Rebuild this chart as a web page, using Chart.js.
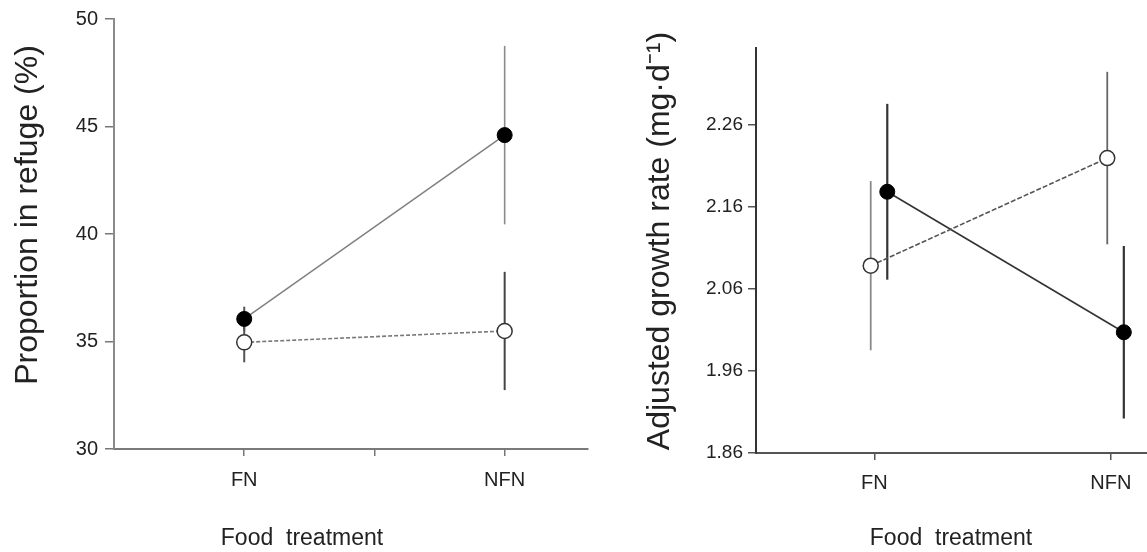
<!DOCTYPE html>
<html>
<head>
<meta charset="utf-8">
<script src="https://cdn.jsdelivr.net/npm/chart.js@4.4.1/dist/chart.umd.min.js"></script>
<style>
  html, body { margin: 0; padding: 0; background: #ffffff; }
  #wrap { position: relative; width: 1147px; height: 552px; overflow: hidden; }
  #c1 { position: absolute; left: 0; top: 0; }
  #c2 { position: absolute; left: 600px; top: 0; }
</style>
</head>
<body>
<div id="wrap">
  <canvas id="c1" width="600" height="552"></canvas>
  <canvas id="c2" width="547" height="552"></canvas>
</div>
<script>
// ---------- DATA ----------
const categories = ['FN', 'NFN'];

// Left panel: proportion in refuge (%)
const refugeFilled    = [36.05, 44.6];
const refugeFilledErr = [0.57, 4.15];
const refugeOpen      = [34.96, 35.49];
const refugeOpenErr   = [0.93, 2.75];
const refugeTicks     = [30, 35, 40, 45, 50];

// Right panel: adjusted growth rate (mg·d-1)
const growthFilled    = [2.178, 2.007];
const growthFilledErr = [0.107, 0.105];
const growthOpen      = [2.088, 2.219];
const growthOpenErr   = [0.103, 0.105];
const growthTicks     = [1.86, 1.96, 2.06, 2.16, 2.26];

// ---------- STYLE / LAYOUT ----------
const FONT = '"Liberation Sans", Arial, Helvetica, sans-serif';
const TXT = '#222222';

// small horizontal offsets used in the right panel so the error bars don't overlap
const rightOffsetFilled = 0.055;
const rightOffsetOpen = -0.015;

function pts(values, offset) {
  return values.map((v, i) => ({ x: i + 1 + offset, y: v }));
}
function errBars(values, errs, offset, color, width) {
  return values.map((v, i) => ({
    type: 'line',
    data: [{ x: i + 1 + offset, y: v - errs[i] }, { x: i + 1 + offset, y: v + errs[i] }],
    borderColor: Array.isArray(color) ? color[i] : color,
    borderWidth: Array.isArray(width) ? width[i] : width,
    pointRadius: 0,
    fill: false,
    order: 10
  }));
}

const titlePlugin = {
  id: 'freeTitles',
  afterDraw(chart, args, opts) {
    const ctx = chart.ctx;
    (opts.items || []).forEach(it => {
      ctx.save();
      ctx.translate(it.x, it.y);
      if (it.rotate) ctx.rotate(it.rotate);
      ctx.font = it.font;
      ctx.fillStyle = it.color || TXT;
      ctx.textAlign = 'center';
      ctx.textBaseline = 'middle';
      ctx.fillText(it.text, 0, 0);
      ctx.restore();
    });
  }
};

function xLabel(v) {
  if (Math.abs(v - 1) < 1e-6) return categories[0];
  if (Math.abs(v - 2) < 1e-6) return categories[1];
  return '';
}
function noPad(s) { s.paddingLeft = 0; s.paddingRight = 0; s.paddingTop = 0; s.paddingBottom = 0; }

// ---------- LEFT CHART ----------
new Chart(document.getElementById('c1'), {
  type: 'scatter',
  data: {
    datasets: [
      {
        data: pts(refugeFilled, 0),
        showLine: true,
        borderColor: '#808080',
        borderWidth: 1.5,
        pointRadius: 7.5,
        pointBackgroundColor: '#000000',
        pointBorderColor: '#000000',
        pointBorderWidth: 1,
        order: 1
      },
      {
        data: pts(refugeOpen, 0),
        showLine: true,
        borderColor: '#7a7a7a',
        borderWidth: 1.6,
        borderDash: [4, 2],
        pointRadius: 7.5,
        pointBackgroundColor: '#ffffff',
        pointBorderColor: '#333333',
        pointBorderWidth: 1.5,
        order: 0
      },
      ...errBars(refugeFilled, refugeFilledErr, 0, ['#555555', '#8a8a8a'], [2, 1.6]),
      ...errBars(refugeOpen, refugeOpenErr, 0, ['#555555', '#444444'], [2, 2])
    ]
  },
  options: {
    responsive: false,
    animation: false,
    events: [],
    layout: { autoPadding: false, padding: { left: 0, top: 19, right: 12, bottom: 0 } },
    plugins: {
      legend: { display: false },
      tooltip: { enabled: false },
      freeTitles: {
        items: [
          { text: 'Proportion in refuge (%)', x: 28, y: 215, rotate: -Math.PI / 2, font: '32px ' + FONT },
          { text: 'Food  treatment', x: 302, y: 539, font: '23px ' + FONT }
        ]
      }
    },
    scales: {
      x: {
        type: 'linear',
        min: 0.5,
        max: 2.32,
        afterFit(s) { s.height = 103; noPad(s); },
        afterBuildTicks(s) { s.ticks = [1, 1.5, 2].map(v => ({ value: v })); },
        grid: { drawOnChartArea: false, drawTicks: true, tickLength: 7, color: '#777777', lineWidth: 1.5 },
        border: { display: true, color: '#7a7a7a', width: 2 },
        ticks: {
          autoSkip: false, maxRotation: 0, padding: 12, color: TXT,
          font: { family: FONT, size: 20 },
          callback: v => xLabel(v)
        }
      },
      y: {
        type: 'linear',
        min: 30,
        max: 50,
        afterFit(s) { s.width = 114; noPad(s); },
        afterBuildTicks(s) { s.ticks = refugeTicks.map(v => ({ value: v })); },
        grid: { drawOnChartArea: false, drawTicks: true, tickLength: 9, color: '#777777', lineWidth: 1.5 },
        border: { display: true, color: '#8a8a8a', width: 2 },
        ticks: {
          padding: 7, color: TXT,
          font: { family: FONT, size: 20 },
          callback: v => String(v)
        }
      }
    }
  },
  plugins: [titlePlugin]
});

// ---------- RIGHT CHART ----------
new Chart(document.getElementById('c2'), {
  type: 'scatter',
  data: {
    datasets: [
      {
        data: pts(growthFilled, rightOffsetFilled),
        showLine: true,
        borderColor: '#333333',
        borderWidth: 1.6,
        pointRadius: 7.5,
        pointBackgroundColor: '#000000',
        pointBorderColor: '#000000',
        pointBorderWidth: 1,
        order: 1
      },
      {
        data: pts(growthOpen, rightOffsetOpen),
        showLine: true,
        borderColor: '#555555',
        borderWidth: 1.6,
        borderDash: [5, 2],
        pointRadius: 7.5,
        pointBackgroundColor: '#ffffff',
        pointBorderColor: '#333333',
        pointBorderWidth: 1.5,
        order: 0
      },
      ...errBars(growthFilled, growthFilledErr, rightOffsetFilled, '#333333', 2.2),
      ...errBars(growthOpen, growthOpenErr, rightOffsetOpen, ['#8a8a8a', '#666666'], [1.8, 1.8])
    ]
  },
  options: {
    responsive: false,
    animation: false,
    events: [],
    layout: { autoPadding: false, padding: { left: 0, top: 48, right: 0, bottom: 0 } },
    plugins: {
      legend: { display: false },
      tooltip: { enabled: false },
      freeTitles: {
        items: [
          { text: 'Adjusted growth rate (mg·d⁻¹)', x: 60, y: 241, rotate: -Math.PI / 2, font: '32px ' + FONT },
          { text: 'Food  treatment', x: 351, y: 539, font: '23px ' + FONT }
        ]
      }
    },
    scales: {
      x: {
        type: 'linear',
        min: 0.5,
        max: 2.153,
        afterFit(s) { s.height = 99; noPad(s); },
        afterBuildTicks(s) { s.ticks = [1, 2].map(v => ({ value: v })); },
        grid: { drawOnChartArea: false, drawTicks: true, tickLength: 7, color: '#555555', lineWidth: 1.5 },
        border: { display: true, color: '#555555', width: 2 },
        ticks: {
          autoSkip: false, maxRotation: 0, padding: 11, color: TXT,
          font: { family: FONT, size: 20 },
          callback: v => xLabel(v)
        }
      },
      y: {
        type: 'linear',
        min: 1.86,
        max: 2.353,
        afterFit(s) { s.width = 156; noPad(s); },
        afterBuildTicks(s) { s.ticks = growthTicks.map(v => ({ value: v })); },
        grid: { drawOnChartArea: false, drawTicks: true, tickLength: 8, color: '#555555', lineWidth: 1.5 },
        border: { display: true, color: '#333333', width: 2 },
        ticks: {
          padding: 5, color: TXT,
          font: { family: FONT, size: 19 },
          callback: v => Number(v).toFixed(2)
        }
      }
    }
  },
  plugins: [titlePlugin]
});
</script>
</body>
</html>
